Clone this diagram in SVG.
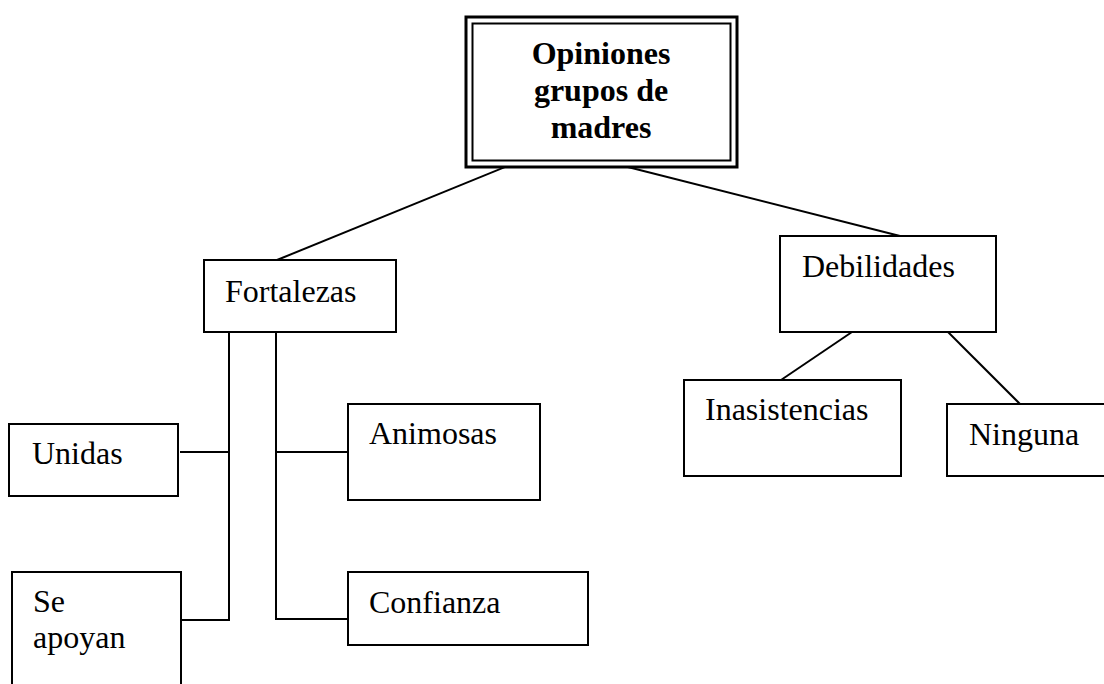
<svg xmlns="http://www.w3.org/2000/svg" width="1104" height="684" viewBox="0 0 1104 684">
<style>
.box{fill:#fff;stroke:#000;stroke-width:2}
.t{font-family:"Liberation Serif","Times New Roman",serif;font-size:32px;fill:#000}
.b{font-weight:bold;text-anchor:middle}
.c{fill:none;stroke:#000;stroke-width:2}
</style>
<rect width="1104" height="684" fill="#fff"/>
<g id="connectors">
<line class="c" x1="515" y1="163" x2="277" y2="260"/>
<line class="c" x1="612" y1="163" x2="900" y2="236"/>
<polyline class="c" points="229,332 229,620 181,620"/>
<line class="c" x1="180" y1="452" x2="229" y2="452"/>
<polyline class="c" points="276,332 276,619 348,619"/>
<line class="c" x1="276" y1="452" x2="348" y2="452"/>
<line class="c" x1="852" y1="332" x2="781" y2="380"/>
<line class="c" x1="948" y1="332" x2="1020" y2="404"/>
</g>
<g id="root">
<rect x="466" y="17" width="271" height="150" fill="#fff" stroke="#000" stroke-width="3"/>
<rect x="472.5" y="23.5" width="258" height="137" fill="none" stroke="#000" stroke-width="2"/>
<text class="t b" x="601" y="64">Opiniones</text>
<text class="t b" x="601" y="101">grupos de</text>
<text class="t b" x="601" y="138">madres</text>
</g>
<g id="fortalezas">
<rect class="box" x="204" y="260" width="192" height="72"/>
<text class="t" x="225" y="302">Fortalezas</text>
</g>
<g id="debilidades">
<rect class="box" x="780" y="236" width="216" height="96"/>
<text class="t" x="802" y="277">Debilidades</text>
</g>
<g id="unidas">
<rect class="box" x="9" y="424" width="169" height="72"/>
<text class="t" x="32" y="464">Unidas</text>
</g>
<g id="seapoyan">
<rect class="box" x="12" y="572" width="169" height="130"/>
<text class="t" x="33" y="612">Se</text>
<text class="t" x="33" y="648">apoyan</text>
</g>
<g id="animosas">
<rect class="box" x="348" y="404" width="192" height="96"/>
<text class="t" x="369" y="444">Animosas</text>
</g>
<g id="confianza">
<rect class="box" x="348" y="572" width="240" height="73"/>
<text class="t" x="369" y="613">Confianza</text>
</g>
<g id="inasistencias">
<rect class="box" x="684" y="380" width="217" height="96"/>
<text class="t" x="705" y="420">Inasistencias</text>
</g>
<g id="ninguna">
<rect class="box" x="947" y="404" width="217" height="72"/>
<text class="t" x="969" y="445">Ninguna</text>
</g>
</svg>
